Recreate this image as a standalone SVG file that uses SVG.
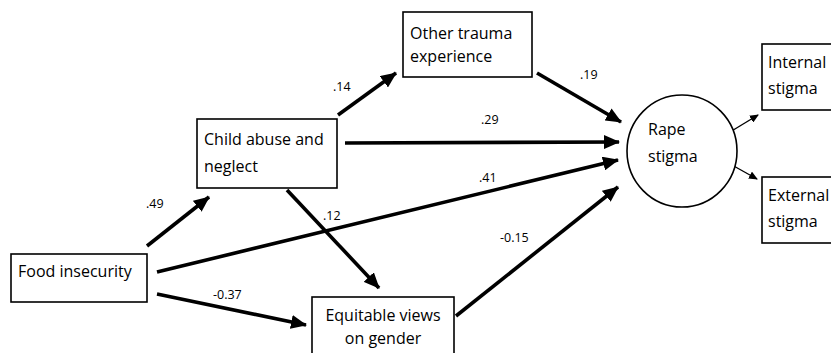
<svg xmlns="http://www.w3.org/2000/svg" width="831" height="353" viewBox="0 0 831 353">
<style>
.box{fill:#fff;stroke:#000;stroke-width:1.6}
.t{font-family:"Open Sans","Liberation Sans",sans-serif;font-size:16px;fill:#000}
.l{font-family:"Open Sans","Liberation Sans",sans-serif;font-size:12.5px;fill:#000}
.e{stroke:#000;stroke-width:3.6;fill:none;marker-end:url(#ah)}
.thin{stroke:#000;stroke-width:1.4;fill:none;marker-end:url(#ahs)}
</style>
<defs>
<marker id="ah" markerUnits="userSpaceOnUse" markerWidth="16" markerHeight="14" refX="15" refY="7" orient="auto"><path d="M0,0 L16,7 L0,14 Z" fill="#000"/></marker>
<marker id="ahs" markerUnits="userSpaceOnUse" markerWidth="9" markerHeight="8" refX="8" refY="4" orient="auto"><path d="M0,0 L9,4 L0,8 Z" fill="#000"/></marker>
</defs>
<rect width="831" height="353" fill="#fff"/>
<g id="connectors">
<line class="e" x1="147" y1="246" x2="209" y2="197"/>
<line class="e" x1="338" y1="115" x2="396" y2="73"/>
<line class="e" x1="537" y1="73" x2="621" y2="122"/>
<line class="e" x1="345" y1="143" x2="619" y2="142"/>
<line class="e" x1="157" y1="272" x2="618" y2="160"/>
<line class="e" x1="287" y1="190" x2="379" y2="288"/>
<line class="e" x1="157" y1="294" x2="306" y2="325"/>
<line class="e" x1="456" y1="316" x2="618" y2="187"/>
<line class="thin" x1="730" y1="132" x2="758" y2="115"/>
<line class="thin" x1="732" y1="165" x2="757" y2="179"/>
<text class="l" x="146" y="208">.49</text>
<text class="l" x="333" y="91">.14</text>
<text class="l" x="580" y="79">.19</text>
<text class="l" x="481" y="124">.29</text>
<text class="l" x="479" y="182">.41</text>
<text class="l" x="323" y="220">.12</text>
<text class="l" x="213" y="299">-0.37</text>
<text class="l" x="500" y="242">-0.15</text>
</g>
<g id="other"><rect class="box" x="403" y="12" width="129" height="65"/><text class="t" x="410" y="39">Other trauma</text><text class="t" x="410" y="62">experience</text></g>
<g id="child"><rect class="box" x="197" y="119" width="140" height="69"/><text class="t" x="204" y="145">Child abuse and</text><text class="t" x="204" y="172">neglect</text></g>
<g id="food"><rect class="box" x="11" y="254" width="136" height="48"/><text class="t" x="18" y="277">Food insecurity</text></g>
<g id="equitable"><rect class="box" x="312" y="297" width="142" height="60"/><text class="t" x="383" y="321" text-anchor="middle">Equitable views</text><text class="t" x="383" y="344" text-anchor="middle">on gender</text></g>
<g id="rape"><ellipse class="box" cx="682" cy="151" rx="55" ry="56"/><text class="t" x="648" y="135">Rape</text><text class="t" x="648" y="162">stigma</text></g>
<g id="internal"><rect class="box" x="762" y="44" width="80" height="66"/><text class="t" x="768" y="68">Internal</text><text class="t" x="768" y="94">stigma</text></g>
<g id="external"><rect class="box" x="762" y="177" width="80" height="66"/><text class="t" x="768" y="201">External</text><text class="t" x="768" y="227">stigma</text></g>
</svg>
